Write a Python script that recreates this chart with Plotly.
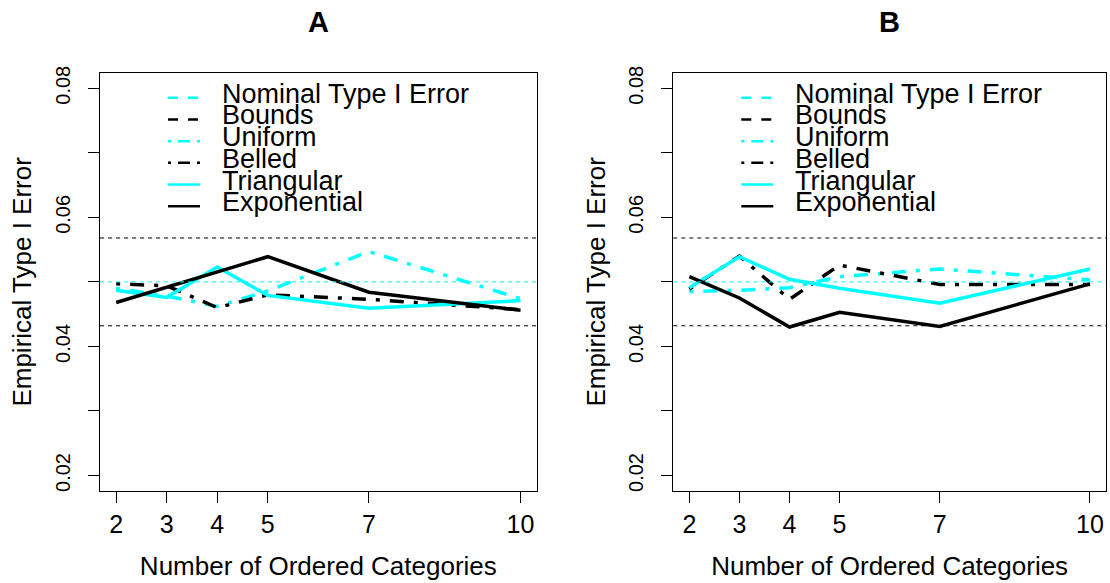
import plotly.graph_objects as go

# ---------------- data ----------------
categories = [2, 3, 4, 5, 7, 10]
nominal = 0.05
bound_lower = 0.0432
bound_upper = 0.0568

a_uniform = [0.0490, 0.0478, 0.0462, 0.0486, 0.0547, 0.0474]
a_belled = [0.0497, 0.0494, 0.0460, 0.0480, 0.0473, 0.0457]
a_triangular = [0.0487, 0.0476, 0.0523, 0.0479, 0.0459, 0.0471]
a_exponential = [0.0468, 0.0492, 0.0516, 0.0539, 0.0484, 0.0456]

b_uniform = [0.0485, 0.0487, 0.0491, 0.0508, 0.0520, 0.0503]
b_belled = [0.0489, 0.0540, 0.0473, 0.0526, 0.0496, 0.0496]
b_triangular = [0.0491, 0.0539, 0.0504, 0.0490, 0.0467, 0.0520]
b_exponential = [0.0508, 0.0475, 0.0430, 0.0453, 0.0431, 0.0497]

legend_labels = ["Nominal Type I Error", "Bounds", "Uniform", "Belled",
                 "Triangular", "Exponential"]
ytick_vals = [0.02, 0.03, 0.04, 0.05, 0.06, 0.07, 0.08]
ytick_text = ["0.02", "", "0.04", "", "0.06", "", "0.08"]
panel_titles = ["A", "B"]

# ---------------- styling ----------------
W, H = 1110, 583
FONT = "Liberation Sans, Arial, Helvetica, sans-serif"
CYAN = "#00FFFF"
BLACK = "#000000"
DOTDASH = "4px,10px,14px,10px"
THIN_DASH = "4px,4px"

series_style = {
    "Uniform": (CYAN, DOTDASH),
    "Belled": (BLACK, DOTDASH),
    "Triangular": (CYAN, "solid"),
    "Exponential": (BLACK, "solid"),
}
legend_style = [
    (CYAN, "10px,10px"),
    (BLACK, "10px,10px"),
    (CYAN, "3px,7px,12px,7px"),
    (BLACK, "3px,7px,12px,7px"),
    (CYAN, "solid"),
    (BLACK, "solid"),
]

# panel boxes in pixels
box_x = [(100.0, 536.7), (673.3, 1106.0)]
box_top, box_bottom = 66.7, 490.7

fig = go.Figure()

panels = [
    {"Uniform": a_uniform, "Belled": a_belled,
     "Triangular": a_triangular, "Exponential": a_exponential},
    {"Uniform": b_uniform, "Belled": b_belled,
     "Triangular": b_triangular, "Exponential": b_exponential},
]

for i, pdata in enumerate(panels):
    xa = "x" if i == 0 else "x2"
    ya = "y" if i == 0 else "y2"
    for name in ["Uniform", "Belled", "Triangular", "Exponential"]:
        color, dash = series_style[name]
        fig.add_trace(go.Scatter(
            x=categories, y=pdata[name], mode="lines", name=name,
            line=dict(color=color, width=3.5, dash=dash),
            xaxis=xa, yaxis=ya, showlegend=False, hoverinfo="x+y+name"))

    # reference lines (nominal level and bounds)
    for val, col in [(nominal, CYAN), (bound_upper, BLACK), (bound_lower, BLACK)]:
        fig.add_shape(type="line", xref=f"{xa} domain", yref=ya,
                      x0=0, x1=1, y0=val, y1=val,
                      line=dict(color=col, width=1, dash=THIN_DASH))

    # legend (manual, inside the panel)
    bx0 = box_x[i][0]
    for k, (lab, (col, dash)) in enumerate(zip(legend_labels, legend_style)):
        yc = 92 + 22 * k
        fig.add_shape(type="line", xref="paper", yref="paper",
                      x0=(bx0 + 68) / W, x1=(bx0 + 100) / W,
                      y0=1 - yc / H, y1=1 - yc / H,
                      line=dict(color=col, width=2.5, dash=dash))
        fig.add_annotation(text=lab, xref="paper", yref="paper",
                           x=(bx0 + 120) / W, y=1 - (yc - 4) / H,
                           xanchor="left", yanchor="middle", showarrow=False,
                           font=dict(family=FONT, size=27, color=BLACK))

    # panel title
    fig.add_annotation(text=f"<b>{panel_titles[i]}</b>", xref="paper", yref="paper",
                       x=(box_x[i][0] + box_x[i][1]) / 2 / W, y=1 - 15 / H,
                       xanchor="center", yanchor="middle", showarrow=False,
                       font=dict(family=FONT, size=29, color=BLACK))

xaxis_common = dict(
    range=[1.68, 10.32], tickvals=categories, ticktext=[str(c) for c in categories],
    showgrid=False, zeroline=False, showline=True, mirror=True,
    linecolor=BLACK, linewidth=1, ticks="outside", ticklen=11, tickwidth=1,
    tickcolor=BLACK, ticklabelstandoff=0,
    tickfont=dict(family=FONT, size=25, color=BLACK),
    title=dict(text="Number of Ordered Categories", standoff=19,
               font=dict(family=FONT, size=26, color=BLACK)),
)
yaxis_common = dict(
    range=[0.0176, 0.0824], tickvals=ytick_vals, ticktext=ytick_text,
    tickangle=-90,
    showgrid=False, zeroline=False, showline=True, mirror=True,
    linecolor=BLACK, linewidth=1, ticks="outside", ticklen=11, tickwidth=1,
    tickcolor=BLACK, ticklabelstandoff=10,
    tickfont=dict(family=FONT, size=20, color=BLACK),
    title=dict(text="Empirical Type I Error", standoff=12,
               font=dict(family=FONT, size=26, color=BLACK)),
)

ydom = [(H - box_bottom) / H, (H - box_top) / H]
fig.update_layout(
    width=W, height=H,
    margin=dict(l=0, r=0, t=0, b=0),
    paper_bgcolor="white", plot_bgcolor="white",
    showlegend=False,
    xaxis=dict(domain=[box_x[0][0] / W, box_x[0][1] / W], anchor="y", **xaxis_common),
    yaxis=dict(domain=ydom, anchor="x", **yaxis_common),
    xaxis2=dict(domain=[box_x[1][0] / W, box_x[1][1] / W], anchor="y2", **xaxis_common),
    yaxis2=dict(domain=ydom, anchor="x2", **yaxis_common),
    font=dict(family=FONT, color=BLACK),
)

fig.write_html(
    "out.html",
    config={"displayModeBar": False},
    post_script="document.body.style.margin='0';document.body.style.overflow='hidden';",
)
